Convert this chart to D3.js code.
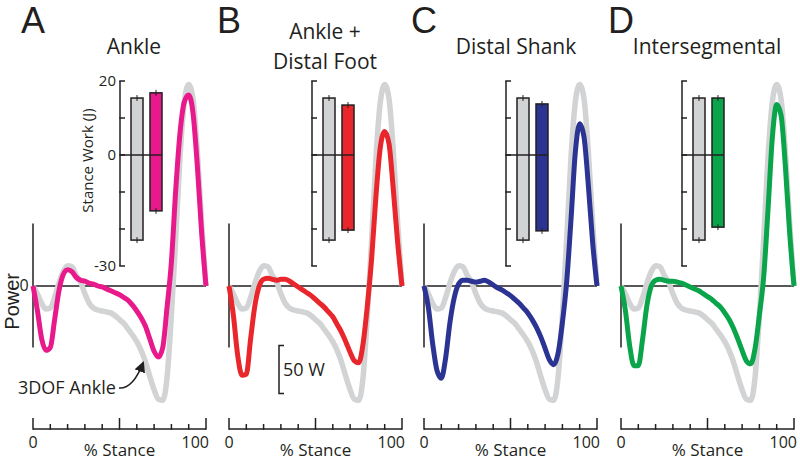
<!DOCTYPE html>
<html><head><meta charset="utf-8">
<script src="https://cdn.jsdelivr.net/npm/d3@7/dist/d3.min.js"></script>
<style>
body{margin:0;background:#fff}
svg{display:block}
text{font-family:"Open Sans",sans-serif;fill:#231f20}
</style>
</head><body>
<svg id="chart" width="800" height="461"></svg>
<script>
// ---------- data ----------
const stance = d3.range(0, 100.01, 2.5); // % stance
const ref3dofAnkle = [0,-8,-18,-24,-23,-12,3,15,21,20,11,4,-8,-18,-23,-25,-26,-27,-28,-31,-35,-39,-45,-51,-58,-67,-79,-94,-108,-118,-119,-95,-30,50,135,192,210,195,140,65,0];
const ankle        = [0,-25,-55,-67,-64,-35,-5,12,17,15,9,6,5,3,2,0,-1,-3,-5,-7,-9,-12,-15,-20,-26,-33,-42,-55,-68,-74,-64,-22,25,100,160,192,199,180,125,55,0];
const ankleDistalFoot = [0,-30,-72,-93,-92,-55,-20,0,7,8,7,6,7,7,5,2,-1,-4,-7,-10,-14,-18,-22,-27,-32,-40,-48,-58,-69,-78,-80,-60,-20,30,95,145,161,148,100,45,0];
const distalShank  = [0,-22,-60,-88,-96,-75,-38,-12,2,6,6,5,4,5,6,4,1,-2,-4,-7,-10,-14,-18,-23,-28,-35,-43,-53,-65,-77,-82,-70,-38,5,70,140,169,155,105,45,0];
const intersegmental = [0,-25,-62,-83,-83,-55,-20,0,6,7,6,5,5,4,3,1,-1,-3,-5,-8,-11,-14,-18,-22,-28,-35,-44,-55,-67,-78,-81,-65,-30,10,80,155,189,178,125,55,0];

const panelLetters = ["A","B","C","D"];
const panelTitles = [["Ankle"],["Ankle +","Distal Foot"],["Distal Shank"],["Intersegmental"]];
const panelColors = ["#e8198b","#e8262c","#2b3492","#0aa54b"];
const modelSeries = [ankle, ankleDistalFoot, distalShank, intersegmental];

// stance work (J): reference (3DOF ankle) and model, positive and negative
const refWorkPos = [15.4,15.4,15.4,15.4];
const refWorkNeg = [-23.0,-23.0,-23.0,-23.0];
const modelWorkPos = [16.8,13.5,13.8,15.4];
const modelWorkNeg = [-15.1,-20.3,-20.5,-19.5];
const workErr = 0.8;
const workTicks = [20,10,0,-10,-20,-30];
const workTickLabels = ["20","","0","","","-30"];
const stanceTicks = [0,10,20,30,40,50,60,70,80,90,100];
const stanceTickLabels = ["0","100"];

// ---------- layout ----------
const svg = d3.select("#chart");
const panelX0 = [33,229,424,621];
const panelW = 173;
const insetAxisX = [120,312,506,682];
const titleX = [134,325,516,707];

const y = d3.scaleLinear().domain([-150,220]).range([286+150*0.96, 286-220*0.96]);
const yw = d3.scaleLinear().domain([-30,20]).range([266,81]);
const axisY = 429;

panelLetters.forEach((L,i)=>{
  const x0 = panelX0[i];
  const x = d3.scaleLinear().domain([0,100]).range([x0, x0+panelW]);
  const g = svg.append("g");

  // letter
  g.append("text").attr("x",x0).attr("y",33).attr("text-anchor","middle")
    .style("font-family","'Liberation Sans',Arial,sans-serif").style("font-size","36px").text(L);
  // title
  const tl = panelTitles[i];
  tl.forEach((t,k)=>{
    const ty = tl.length===1 ? 54 : 39 + k*30;
    g.append("text").attr("x",titleX[i]).attr("y",ty).attr("text-anchor","middle")
      .style("font-size","21px").text(t);
  });

  // power axis vertical line
  g.append("line").attr("x1",x(0)).attr("x2",x(0)).attr("y1",y(65)).attr("y2",y(-64))
    .attr("stroke","#231f20").attr("stroke-width",1.5);
  // zero line
  g.append("line").attr("x1",x(0)).attr("x2",x(100)).attr("y1",y(0)).attr("y2",y(0))
    .attr("stroke","#231f20").attr("stroke-width",1.5);

  const line = d3.line().x((d,j)=>x(stance[j])).y(d=>y(d)).curve(d3.curveMonotoneX);
  g.append("path").datum(ref3dofAnkle).attr("d",line).attr("fill","none")
    .attr("stroke","#d2d3d4").attr("stroke-width",5.5).attr("stroke-linejoin","round");
  g.append("path").datum(modelSeries[i]).attr("d",line).attr("fill","none")
    .attr("stroke",panelColors[i]).attr("stroke-width",5).attr("stroke-linejoin","round");

  // x axis
  g.append("line").attr("x1",x(0)).attr("x2",x(100)).attr("y1",axisY).attr("y2",axisY)
    .attr("stroke","#231f20").attr("stroke-width",1.5);
  stanceTicks.forEach(t=>{
    const major = t%50===0;
    g.append("line").attr("x1",x(t)).attr("x2",x(t)).attr("y1",axisY+0.75).attr("y2",axisY-(major?11:5))
      .attr("stroke","#231f20").attr("stroke-width",1.5);
  });
  g.append("text").attr("x",x(0)).attr("y",448).attr("text-anchor","middle").style("font-size","16px").text(stanceTickLabels[0]);
  g.append("text").attr("x",x(100)+3).attr("y",448).attr("text-anchor","end").style("font-size","16px").text(stanceTickLabels[1]);
  g.append("text").attr("x",x(50)).attr("y",456).attr("text-anchor","middle").style("font-size","17px").text("% Stance");

  // inset work bar chart
  const ax = insetAxisX[i];
  g.append("line").attr("x1",ax).attr("x2",ax).attr("y1",yw(20)).attr("y2",yw(-30))
    .attr("stroke","#231f20").attr("stroke-width",1.5);
  workTicks.forEach((t,k)=>{
    g.append("line").attr("x1",ax-0.75).attr("x2",ax+5).attr("y1",yw(t)).attr("y2",yw(t))
      .attr("stroke","#231f20").attr("stroke-width",1.5);
    if(i===0 && workTickLabels[k]) g.append("text").attr("x",ax-4).attr("y",yw(t)+5)
      .attr("text-anchor","end").style("font-size","15px").text(workTickLabels[k]);
  });
  const xb = d3.scaleBand().domain([0,1]).range([ax+11, ax+42]).paddingInner(0.368);
  const bars = [
    {k:0, pos:refWorkPos[i], neg:refWorkNeg[i], fill:"#d1d3d4"},
    {k:1, pos:modelWorkPos[i], neg:modelWorkNeg[i], fill:panelColors[i]}
  ];
  bars.forEach(b=>{
    g.append("rect").attr("x",xb(b.k)).attr("width",xb.bandwidth())
      .attr("y",yw(b.pos)).attr("height",yw(b.neg)-yw(b.pos))
      .attr("fill",b.fill).attr("stroke","#231f20").attr("stroke-width",1.5);
    const cx = xb(b.k)+xb.bandwidth()/2;
    [b.pos,b.neg].forEach(v=>{
      g.append("line").attr("x1",cx).attr("x2",cx).attr("y1",yw(v+workErr)).attr("y2",yw(v-workErr))
        .attr("stroke","#231f20").attr("stroke-width",1);
    });
  });
  g.append("line").attr("x1",ax).attr("x2",ax+42).attr("y1",yw(0)).attr("y2",yw(0))
    .attr("stroke","#231f20").attr("stroke-width",1.5);
  if(i===0){
    g.append("text").attr("transform",`translate(${ax-27},${yw(-1.5)}) rotate(-90)`)
      .attr("text-anchor","middle").style("font-size","15px").text("Stance Work (J)");
  }
});

// Power label and zero label
svg.append("text").attr("x",24).attr("y",y(0)+5).attr("text-anchor","middle").style("font-size","16px").text("0");
svg.append("text").attr("transform",`translate(18.5,${y(-16)}) rotate(-90)`).attr("text-anchor","middle")
  .style("font-family","'Liberation Sans',Arial,sans-serif").style("font-size","20px").text("Power");

// 3DOF Ankle annotation
svg.append("text").attr("x",18).attr("y",394).style("font-size","18px").text("3DOF Ankle");
svg.append("defs").append("marker").attr("id","ah").attr("viewBox","0 0 10 10").attr("refX",8).attr("refY",5)
  .attr("markerWidth",7).attr("markerHeight",7).attr("orient","auto")
  .append("path").attr("d","M0,0 L10,5 L0,10 z").attr("fill","#231f20");
svg.append("path").attr("d","M119,388 Q133,389 143,363").attr("fill","none")
  .attr("stroke","#231f20").attr("stroke-width",1.6).attr("marker-end","url(#ah)");

// 50 W scale bar
const sbx = 279;
svg.append("path").attr("d",`M${sbx+5},${y(-62)} H${sbx} V${y(-112)} H${sbx+5}`)
  .attr("fill","none").attr("stroke","#231f20").attr("stroke-width",1.5);
svg.append("text").attr("x",sbx+4).attr("y",y(-87)+6).style("font-size","18px").text("50 W");
</script>
</body></html>
